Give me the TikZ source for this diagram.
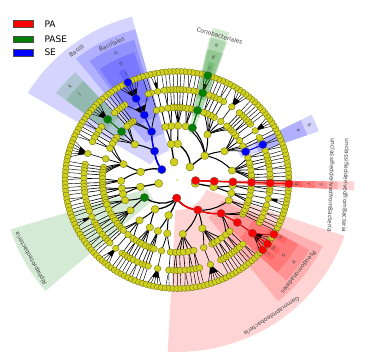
\documentclass[tikz,border=0pt]{standalone}
\usepackage{fontspec}
\setmainfont{DejaVu Sans}
\usepackage{xcolor}

\definecolor{leafyel}{RGB}{208,208,30}
\definecolor{leafrim}{RGB}{100,100,10}
\definecolor{pasegreen}{RGB}{0,128,0}

\newcount\kid
\gdef\ringnodes{}
\gdef\hotnodes{}
% one ring of the cladogram, grouped from the ring outside it
\newcommand\buildring[5]{%
  \global\kid=1
  \gdef\newF{-1}\gdef\newL{-1}%
  \edef\cF{\csname F#2\endcsname}\edef\cL{\csname L#2\endcsname}%
  \pgfmathsetmacro\rp{18.1*#3}\pgfmathsetmacro\rc{18.1*#2}%
  \foreach \grp in {#1} {%
    \pgfmathtruncatemacro\ja{\the\kid}%
    \pgfmathtruncatemacro\jb{\the\kid+\grp-1}%
    \pgfmathtruncatemacro\spanA{{\cF}[\ja]}%
    \pgfmathtruncatemacro\spanB{{\cL}[\jb]}%
    \pgfmathsetmacro\pa{-2+\spanA+\spanB}%
    \foreach \kk in {\ja,...,\jb} {%
      \pgfmathsetmacro\da{-2+{\cF}[\kk]+{\cL}[\kk]-(\pa)}%
      \draw[line width=#4] plot[domain=0:1,samples=6,variable=\pp]
        ({\pa+(\da)*\pp}:{\rp+(\rc-\rp)*\pp});
    }%
    \ifnum#2>4 \ifnum\grp>2
      \pgfmathsetmacro\wa{-2+{\cF}[\ja]+{\cL}[\ja]}%
      \pgfmathsetmacro\wb{-2+{\cF}[\jb]+{\cL}[\jb]}%
      \fill (\pa:\rp) -- ({(\pa+(\wa))/2}:{(\rp+\rc)/2})
        -- ({(\pa+(\wb))/2}:{(\rp+\rc)/2}) -- cycle;
    \fi\fi
    \xdef\ringnodes{\unexpanded\expandafter{\ringnodes}%
      \noexpand\path[leaf] (\pa:\rp) circle[radius=#5];}%
    \xdef\newF{\newF,\spanA}\xdef\newL{\newL,\spanB}%
    \global\advance\kid by \grp\relax
  }%
  \expandafter\xdef\csname F#3\endcsname{\newF}%
  \expandafter\xdef\csname L#3\endcsname{\newL}%
}
% coloured clade: level, first leaf, last leaf, parent first/last (-1: no edge), colour
\newcommand\hilite[6]{%
  \pgfmathsetmacro\ha{-2+#2+#3}\pgfmathsetmacro\hr{18.1*#1}%
  \ifnum#4>-1
    \pgfmathsetmacro\hp{-2+#4+#5}\pgfmathsetmacro\hw{2-0.22*#1}%
    \pgfmathsetmacro\hd{\ha-(\hp)}%
    \draw[#6,line width=\hw pt] plot[domain=0:1,samples=8,variable=\pp]
      ({\hp+(\hd)*\pp}:{\hr-18.1+18.1*\pp});
  \fi
  \xdef\hotnodes{\unexpanded\expandafter{\hotnodes}%
    \noexpand\path[fill=#6,draw=black!60,line width=.3pt]
    (\ha:\hr) circle[radius=4.1];}}
% shaded sector behind a clade
\newcommand\cladeband[5]{%
  \fill[#1,opacity=.17] plot[domain=#2:#3,samples=25] (\x:#4)
    -- plot[domain=#3:#2,samples=25] (\x:#5) -- cycle;}

\begin{document}
\begin{tikzpicture}[x=1pt,y=1pt,
  every node/.style={font=\fontsize{5.8}{6}\selectfont, text=black!75},
  leaf/.style={fill=leafyel, draw=leafrim, line width=.3pt},
  letter/.style={font=\fontsize{5}{5}\selectfont},
  keybox/.style={draw=black!70, line width=.4pt},
  keytext/.style={anchor=west, font=\fontsize{9}{9}\selectfont, text=black}]
\useasboundingbox (-177,-183) rectangle (191,180);

\begin{scope}[xscale=1.03]
% sectors
\cladeband{blue}{105}{149}{30}{169}
\cladeband{blue}{105}{129}{48}{156}
\cladeband{blue}{106.5}{125.5}{66}{146}
\cladeband{blue}{108}{124}{84}{134}
\cladeband{blue}{114.5}{117.5}{102}{122}
\cladeband{blue}{19.5}{26.5}{66}{146}
\cladeband{blue}{19.5}{26.5}{84}{134}
\cladeband{pasegreen}{71}{77}{48}{156}
\cladeband{pasegreen}{70.5}{77.5}{66}{146}
\cladeband{pasegreen}{70.5}{77.5}{84}{134}
\cladeband{pasegreen}{72.5}{75.5}{102}{122}
\cladeband{pasegreen}{132.5}{143.5}{66}{146}
\cladeband{pasegreen}{132.5}{143.5}{84}{134}
\cladeband{pasegreen}{197}{221}{30}{169}
\cladeband{red}{267}{341}{30}{172}
\cladeband{red}{309}{335}{48}{156}
\cladeband{red}{316.5}{331.5}{66}{146}
\cladeband{red}{316.5}{331.5}{84}{134}
\cladeband{red}{318.5}{321.5}{102}{122}
\cladeband{red}{322.5}{325.5}{102}{122}
\cladeband{red}{328.5}{331.5}{102}{122}
\cladeband{red}{-3.5}{-0.5}{30}{172}
\cladeband{red}{-3.5}{-0.5}{48}{156}
\cladeband{red}{-3.5}{-0.5}{66}{146}
\cladeband{red}{-3.5}{-0.5}{84}{134}
\cladeband{red}{-3.5}{-0.5}{102}{122}

% leaf list
\gdef\tmpF{-1}
\foreach \i in {0,...,179} {\xdef\tmpF{\tmpF,\i}}
\expandafter\xdef\csname F6\endcsname{\tmpF}
\expandafter\xdef\csname L6\endcsname{\tmpF}

% genus, family, order, class, phylum
\buildring{1, 1,1,1,2,1,1,1,1,2, 2,1,1,4,1,1,1, 1,1,1,5,1,2,1,1,1, 3, 1,1,2,
  1,1,1,1, 1,1,1,3, 1,1,7,1,1,1, 1,1,5,1,2, 1,1,2,6,1,1,1,1, 2,1,1,
  1,1,2,1,1, 1,1,3,1,1,1,1,2,1, 1,1,4,1,1,1,1,1,2, 1,1,1,5,2,
  1,1,1,2,1,1,1,1, 6,1,1,1,1,1,1, 1,1,2,7,1,1, 1,2, 1,1,3,1,1,1}{6}{5}{.45pt}{3.2}
\buildring{1, 1,1,1,2,1,1,2, 1,1,1,1,1,2, 1,1,1,1,1,1,1,2, 1, 1,1,1,
  1,1,1,1, 1,2,1, 1,3,1,1, 1,1,1,1,1, 1,2,1,1,1,1,1, 1,1,1, 1,1,1,1,1,
  1,1,1,1,2,1,1,1, 1,1,1,1,2,1,1,1, 1,1,1,1,1, 2,1,1,2,2, 1,1,1,2,2,
  2,1,1,1,1, 1,1, 1,1,1,1,2}{5}{4}{.6pt}{3.3}
\buildring{1, 7,6,8,1,3,4, 2,1, 4,5,7,3, 3,2, 3,5, 4,4, 3,2, 5,5,5,2,
  3,2}{4}{3}{.8pt}{3.6}
\buildring{1, 5,1, 2, 2,2, 2, 2,2,2,4, 2}{3}{2}{1.05pt}{3.8}
\buildring{1,2,1,2,1,4,1}{2}{1}{1.3pt}{3.9}

% PA, PASE and SE clades
\hilite{1}{0}{0}{-1}{-1}{red}
\hilite{2}{0}{0}{0}{0}{red}
\hilite{3}{0}{0}{0}{0}{red}
\hilite{4}{0}{0}{0}{0}{red}
\hilite{5}{0}{0}{0}{0}{red}
\hilite{6}{0}{0}{0}{0}{red}
\hilite{4}{12}{13}{-1}{-1}{blue}
\hilite{5}{12}{13}{12}{13}{blue}
\hilite{3}{37}{39}{-1}{-1}{pasegreen}
\hilite{4}{37}{39}{37}{39}{pasegreen}
\hilite{5}{37}{39}{37}{39}{pasegreen}
\hilite{6}{38}{38}{37}{39}{pasegreen}
\hilite{1}{54}{93}{-1}{-1}{blue}
\hilite{2}{54}{75}{54}{93}{blue}
\hilite{3}{54}{65}{54}{75}{blue}
\hilite{4}{55}{63}{54}{65}{blue}
\hilite{5}{56}{62}{55}{63}{blue}
\hilite{6}{59}{59}{56}{62}{blue}
\hilite{4}{68}{72}{-1}{-1}{pasegreen}
\hilite{5}{68}{72}{68}{72}{pasegreen}
\hilite{1}{100}{171}{-1}{-1}{red}
\hilite{2}{100}{111}{-1}{-1}{pasegreen}
\hilite{2}{135}{171}{100}{171}{red}
\hilite{3}{156}{168}{135}{171}{red}
\hilite{4}{160}{166}{156}{168}{red}
\hilite{5}{160}{166}{160}{166}{red}
\hilite{6}{161}{161}{160}{166}{red}
\hilite{6}{163}{163}{160}{166}{red}
\hilite{6}{166}{166}{160}{166}{red}

% the circles
\foreach \i in {0,...,179}
  \path[leaf] ({-2+2*\i}:108.6) circle[radius=3.1];
\ringnodes
\hotnodes
\fill[leafyel] (0,0) circle[radius=.8];

% clade names
\node[rotate=37] (bacilli) at (127:162) {Bacilli};
\node[rotate=119] (alpha) at (209:162) {Alphaproteobacteria};
\node[rotate=214] (gamma) at (304:164) {Gammaproteobacteria};
\node[rotate=-92] (unclA) at (-2:164) {unclassifiedderivedfromBacteria};
\node[rotate=25] (bacillales) at (115:150) {Bacillales};
\node[rotate=-16] (corio) at (74:150) {Coriobacteriales};
\node[rotate=232] (pseudo) at (322:150) {Pseudomonadales};
\node[rotate=-92] (unclB) at (-2:150) {unclassifiedderivedfromBacteria};
\node[letter,rotate=-67] (la) at (23:128) {a};
\node[letter,rotate=-67] (lb) at (23:140) {b};
\node[letter,rotate=-16] (lc) at (74:116) {c};
\node[letter,rotate=-16] (ld) at (74:128) {d};
\node[letter,rotate=-16] (le) at (74:140) {e};
\node[letter,rotate=25] (lf) at (115:116) {f};
\node[letter,rotate=25] (lg) at (115:128) {g};
\node[letter,rotate=25] (lh) at (115:140) {h};
\node[letter,rotate=48] (lj) at (138:128) {j};
\node[letter,rotate=48] (lk) at (138:140) {k};
\node[letter,rotate=230] (ll) at (320:116) {l};
\node[letter,rotate=234] (lm) at (324:116) {m};
\node[letter,rotate=240] (ln) at (330:116) {n};
\node[letter,rotate=234] (lo) at (324:128) {o};
\node[letter,rotate=234] (lp) at (324:140) {p};
\node[letter,rotate=-92] (lq) at (-2:116) {q};
\node[letter,rotate=-92] (lr) at (-2:128) {r};
\node[letter,rotate=-92] (ls) at (-2:140) {s};
\end{scope}

% legend
\draw[keybox,fill=red] (-163.7,152.7) rectangle (-143.7,159.3);
\draw[keybox,fill=pasegreen] (-163.7,137.3) rectangle (-143.7,144);
\draw[keybox,fill=blue] (-163.7,124) rectangle (-143.7,130.7);
\node[keytext] (keyPA) at (-136,156) {PA};
\node[keytext] (keyPASE) at (-136,140.7) {PASE};
\node[keytext] (keySE) at (-136,127.3) {SE};
\end{tikzpicture}
\end{document}
